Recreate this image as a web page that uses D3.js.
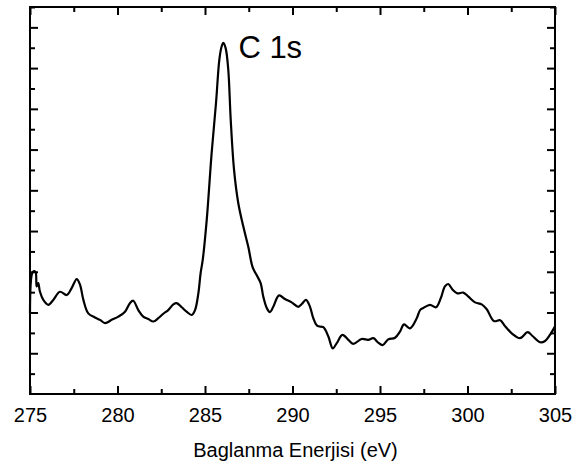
<!DOCTYPE html>
<html>
<head>
<meta charset="utf-8">
<script src="https://cdn.jsdelivr.net/npm/d3@7"></script>
<style>
  body { margin: 0; background: #fff; }
  text { font-family: 'Liberation Sans', Arial, sans-serif; fill: #000; }
</style>
</head>
<body>
<div id="viz"></div>
<script>
// XPS C 1s spektrumu - binding energy (eV) vs intensity (arb. units)

var energy = [
    275.00, 275.17, 275.31, 275.38, 275.47, 275.57, 275.76, 276.05, 276.33, 276.71,
    277.10, 277.38, 277.67, 277.86, 278.05, 278.33, 278.71, 279.00, 279.29, 279.67,
    280.05, 280.43, 280.71, 280.90, 281.19, 281.47, 281.76, 282.05, 282.33, 282.62,
    282.90, 283.19, 283.38, 283.67, 283.95, 284.24, 284.43, 284.62, 284.75, 284.87,
    285.10, 285.38, 285.63, 285.82, 285.95, 286.05, 286.18, 286.33, 286.47, 286.66,
    286.90, 287.19, 287.47, 287.73, 287.95, 288.18, 288.33, 288.53, 288.71, 288.90,
    289.23, 289.57, 289.95, 290.33, 290.53, 290.77, 291.00, 291.19, 291.42, 291.76,
    292.05, 292.30, 292.53, 292.85, 293.19, 293.47, 293.95, 294.33, 294.62, 294.90,
    295.15, 295.47, 295.86, 296.14, 296.37, 296.71, 297.10, 297.29, 297.47, 297.86,
    298.20, 298.47, 298.71, 298.90, 299.15, 299.42, 299.76, 300.05, 300.43, 300.81,
    301.10, 301.51, 301.87, 302.14, 302.53, 303.00, 303.44, 303.70, 304.14, 304.43,
    304.71, 305.00
];

var intensity = [
    1.99, 3.00, 3.00, 2.64, 2.72, 2.51, 2.31, 2.19, 2.31, 2.51,
    2.43, 2.60, 2.82, 2.68, 2.31, 1.98, 1.88, 1.82, 1.74, 1.82,
    1.90, 2.02, 2.23, 2.29, 2.06, 1.90, 1.84, 1.78, 1.86, 1.97,
    2.06, 2.20, 2.23, 2.13, 2.02, 1.94, 2.06, 2.47, 2.97, 3.29,
    4.28, 5.92, 7.15, 8.21, 8.53, 8.62, 8.49, 7.96, 6.73, 5.50,
    4.69, 4.11, 3.62, 3.10, 2.92, 2.72, 2.39, 2.11, 2.01, 2.14,
    2.42, 2.33, 2.25, 2.14, 2.21, 2.31, 2.14, 1.86, 1.67, 1.64,
    1.41, 1.12, 1.25, 1.45, 1.33, 1.23, 1.35, 1.33, 1.37, 1.26,
    1.20, 1.34, 1.38, 1.53, 1.71, 1.61, 1.86, 2.06, 2.11, 2.19,
    2.13, 2.35, 2.64, 2.70, 2.56, 2.47, 2.49, 2.39, 2.25, 2.20,
    2.08, 1.79, 1.81, 1.67, 1.49, 1.37, 1.52, 1.43, 1.27, 1.30,
    1.45, 1.66
];

var xTicks = [275, 280, 285, 290, 295, 300, 305];
var xLabel = 'Baglanma Enerjisi (eV)';
var peakLabel = {text: 'C 1s', e: 286.05, v: 8.62};

var data = energy.map(function(e, i){ return {e: e, v: intensity[i]}; });

var W = 574, H = 467;
var margin = {top: 7, right: 19, bottom: 73, left: 30};
var w = W - margin.left - margin.right;
var h = H - margin.top - margin.bottom;

var svg = d3.select('#viz')
    .append('svg')
    .attr('width', W)
    .attr('height', H);

var g = svg.append('g')
    .attr('transform', `translate(${margin.left},${margin.top})`);

var x = d3.scaleLinear().domain([275, 305]).range([0, w]);
var y = d3.scaleLinear().domain([0, 9.5]).range([h, 0]);

// minor ticks halfway between the majors
var xMinor = d3.range(277.5, 305, 5);
var yMajor = d3.range(1, 10, 1);
var yMinor = d3.range(0.5, 9.6, 1);

function tickStyle(sel){
    sel.select('.domain').remove();
    sel.selectAll('line').attr('stroke', '#000').attr('stroke-width', 2);
}

// bottom
g.append('g')
    .attr('transform', `translate(0,${h})`)
    .call(d3.axisBottom(x).tickValues(xTicks).tickSize(-8).tickPadding(14).tickFormat(d3.format('d')))
    .call(tickStyle)
    .selectAll('text')
    .style('font-size', '20px');

g.append('g')
    .attr('transform', `translate(0,${h})`)
    .call(d3.axisBottom(x).tickValues(xMinor).tickSize(-5).tickFormat(''))
    .call(tickStyle);

// top
g.append('g')
    .call(d3.axisTop(x).tickValues(xTicks).tickSize(-8).tickFormat(''))
    .call(tickStyle);

g.append('g')
    .call(d3.axisTop(x).tickValues(xMinor).tickSize(-5).tickFormat(''))
    .call(tickStyle);

// left / right
g.append('g')
    .call(d3.axisLeft(y).tickValues(yMajor).tickSize(-8).tickFormat(''))
    .call(tickStyle);

g.append('g')
    .call(d3.axisLeft(y).tickValues(yMinor).tickSize(-5).tickFormat(''))
    .call(tickStyle);

g.append('g')
    .attr('transform', `translate(${w},0)`)
    .call(d3.axisRight(y).tickValues(yMajor).tickSize(-8).tickFormat(''))
    .call(tickStyle);

g.append('g')
    .attr('transform', `translate(${w},0)`)
    .call(d3.axisRight(y).tickValues(yMinor).tickSize(-5).tickFormat(''))
    .call(tickStyle);

// frame
g.append('rect')
    .attr('x', 0)
    .attr('y', 0)
    .attr('width', w)
    .attr('height', h)
    .attr('fill', 'none')
    .attr('stroke', '#000')
    .attr('stroke-width', 2);

var line = d3.line()
    .x(function(d){ return x(d.e); })
    .y(function(d){ return y(d.v); })
    .curve(d3.curveCatmullRom.alpha(0.5));

g.append('path')
    .datum(data)
    .attr('d', line)
    .attr('fill', 'none')
    .attr('stroke', '#000')
    .attr('stroke-width', 2.2)
    .attr('stroke-linejoin', 'round');

g.append('text')
    .text(peakLabel.text)
    .attr('x', x(peakLabel.e) + 15)
    .attr('y', y(peakLabel.v) + 15)
    .style('font-size', '31px');

g.append('text')
    .text(xLabel)
    .attr('x', w / 2 + 3)
    .attr('y', h + 63)
    .attr('text-anchor', 'middle')
    .style('font-size', '20px');
</script>
</body>
</html>
